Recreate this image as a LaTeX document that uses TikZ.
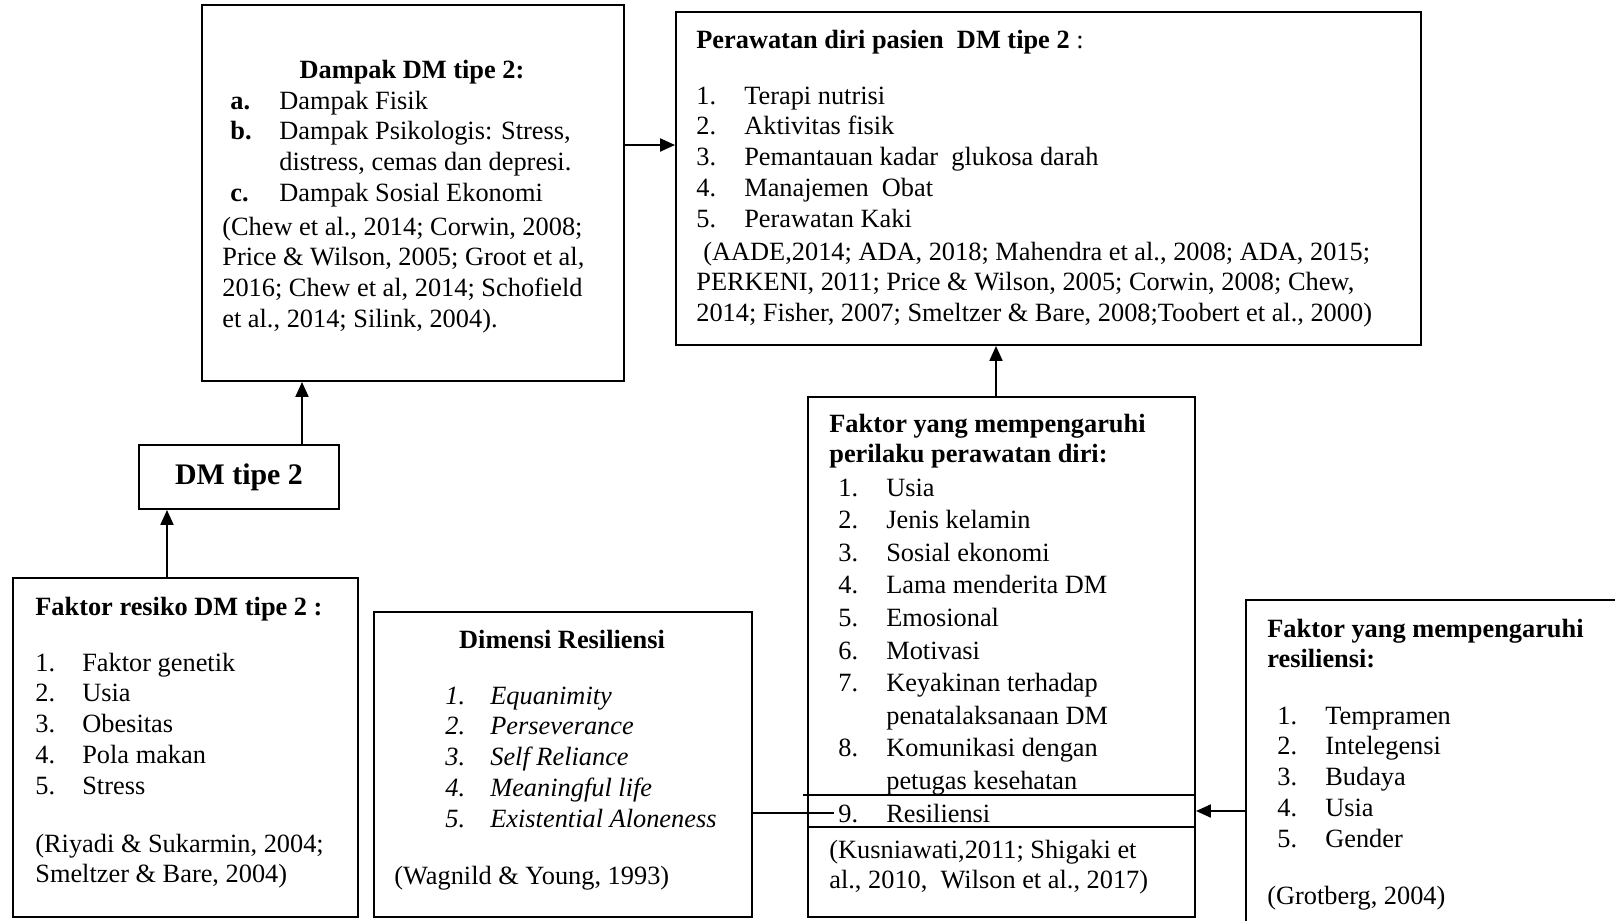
\documentclass[tikz,border=0pt]{standalone}
\usepackage{fontspec}
\setmainfont{Liberation Serif}
\usetikzlibrary{arrows.meta,positioning,fit,calc}
\tikzset{
  >={Triangle[length=3mm,width=2.6mm]},
  frame/.style={draw, line width=1.1pt, inner sep=0pt},
  txt/.style={anchor=base west, inner sep=0pt, font=\fontsize{15}{17.6}\selectfont},
  head/.style={txt, font=\fontsize{15}{17.6}\selectfont\bfseries},
  link/.style={->, line width=1.2pt},
  thinline/.style={line width=0.6pt},
}

\begin{document}
\begin{tikzpicture}[x=0.02cm, y=-0.02cm]
    \useasboundingbox (0,0) rectangle (1615,920);
    % boxes
    \node[frame, fit={(202,5) (624,381)}] (dampak) {};
    \node[frame, fit={(676,12) (1421,345)}] (rawat) {};
    \node[frame, fit={(139,445) (339,509)}] (dm) {};
    \node[frame, fit={(13,578) (358,917)}] (resiko) {};
    \node[frame, fit={(374,612) (752,917)}] (dimensi) {};
    \node[frame, fit={(808,397) (1195,917)}] (perilaku) {};
    \node[frame, fit={(1246,600) (1640,935)}] (resil) {};

    % Dampak DM tipe 2
    \node[head, anchor=base] (dampak-t) at (412,78) {Dampak DM tipe 2:};
    \node[txt] (dampak-l) at (230,109) {\begin{tabular}[t]{@{}p{0.98cm}@{}l@{}}
        \textbf{a.} & Dampak Fisik\\
        \textbf{b.} & Dampak Psikologis: Stress,\\
                    & distress, cemas dan depresi.\\
        \textbf{c.} & Dampak Sosial Ekonomi
      \end{tabular}};
    \node[txt] (dampak-c) at (222,235) {\begin{tabular}[t]{@{}l@{}}
        (Chew et al., 2014; Corwin, 2008;\\
        Price \& Wilson, 2005; Groot et al,\\
        2016; Chew et al, 2014; Schofield\\
        et al., 2014; Silink, 2004).
      \end{tabular}};

    % Perawatan diri
    \node[txt] (rawat-t) at (696,48) {\textbf{Perawatan diri pasien\ \ DM tipe 2} :};
    \node[txt] (rawat-l) at (696,104) {\begin{tabular}[t]{@{}p{0.96cm}@{}l@{}}
        1. & Terapi nutrisi\\
        2. & Aktivitas fisik\\
        3. & Pemantauan kadar\ \ glukosa darah\\
        4. & Manajemen\ \ Obat\\
        5. & Perawatan Kaki
      \end{tabular}};
    \node[txt] (rawat-c) at (696,260) {\begin{tabular}[t]{@{}l@{}}
        \hspace*{0.14cm}(AADE,2014; ADA, 2018; Mahendra et al., 2008; ADA, 2015;\\
        PERKENI, 2011; Price \& Wilson, 2005; Corwin, 2008; Chew,\\
        2014; Fisher, 2007; Smeltzer \& Bare, 2008;Toobert et al., 2000)
      \end{tabular}};

    % DM tipe 2
    \node[font=\fontsize{17}{20}\selectfont\bfseries] (dm-t) at (dm) {DM tipe 2};

    % Faktor resiko
    \node[head] (resiko-t) at (35,615) {Faktor resiko DM tipe 2 :};
    \node[txt] (resiko-l) at (35,671) {\begin{tabular}[t]{@{}p{0.94cm}@{}l@{}}
        1. & Faktor genetik\\
        2. & Usia\\
        3. & Obesitas\\
        4. & Pola makan\\
        5. & Stress
      \end{tabular}};
    \node[txt] (resiko-c) at (35,852) {\begin{tabular}[t]{@{}l@{}}
        (Riyadi \& Sukarmin, 2004;\\
        Smeltzer \& Bare, 2004)
      \end{tabular}};

    % Dimensi resiliensi
    \node[head, anchor=base] (dimensi-t) at (562,648) {Dimensi Resiliensi};
    \node[txt, font=\fontsize{15}{17.6}\selectfont\itshape] (dimensi-l) at (445,704) {\begin{tabular}[t]{@{}p{0.9cm}@{}l@{}}
        1. & Equanimity\\
        2. & Perseverance\\
        3. & Self Reliance\\
        4. & Meaningful life\\
        5. & Existential Aloneness
      \end{tabular}};
    \node[txt] (dimensi-c) at (394,884) {(Wagnild \& Young, 1993)};

    % Faktor perilaku perawatan diri
    \node[head] (perilaku-t) at (829,432) {\begin{tabular}[t]{@{}l@{}}
        Faktor yang mempengaruhi\\
        perilaku perawatan diri:
      \end{tabular}};
    \node[txt] (perilaku-l) at (838,496) {\renewcommand{\arraystretch}{1.055}\begin{tabular}[t]{@{}p{0.96cm}@{}l@{}}
        1. & Usia\\
        2. & Jenis kelamin\\
        3. & Sosial ekonomi\\
        4. & Lama menderita DM\\
        5. & Emosional\\
        6. & Motivasi\\
        7. & Keyakinan terhadap\\
           & penatalaksanaan DM\\
        8. & Komunikasi dengan\\
           & petugas kesehatan\\
        9. & Resiliensi
      \end{tabular}};
    \node[txt] (perilaku-c) at (829,858) {\begin{tabular}[t]{@{}l@{}}
        (Kusniawati,2011; Shigaki et\\
        al., 2010,\ \ Wilson et al., 2017)
      \end{tabular}};
    \draw[thinline] (803,795) -- (perilaku.east |- 0,795);
    \draw[thinline] (perilaku.west |- 0,827) -- (perilaku.east |- 0,827);

    % Faktor resiliensi
    \node[head] (resil-t) at (1267,637) {\begin{tabular}[t]{@{}l@{}}
        Faktor yang mempengaruhi\\
        resiliensi:
      \end{tabular}};
    \node[txt] (resil-l) at (1277,724) {\begin{tabular}[t]{@{}p{0.96cm}@{}l@{}}
        1. & Tempramen\\
        2. & Intelegensi\\
        3. & Budaya\\
        4. & Usia\\
        5. & Gender
      \end{tabular}};
    \node[txt] (resil-c) at (1267,904) {(Grotberg, 2004)};

    % connectors
    \coordinate (item9) at (834,813);
    \draw[link] (dampak.east |- 0,145) -- (rawat.west |- 0,145);
    \draw[link] (302,0 |- dm.north) -- (302,0 |- dampak.south);
    \draw[link] (167,0 |- resiko.north) -- (167,0 |- dm.south);
    \draw[link] (996,0 |- perilaku.north) -- (996,0 |- rawat.south);
    \draw[link] (resil.west |- 0,811) -- (perilaku.east |- 0,811);
    \draw[thinline] (dimensi.east |- item9) -- (item9);
\end{tikzpicture}
\end{document}
